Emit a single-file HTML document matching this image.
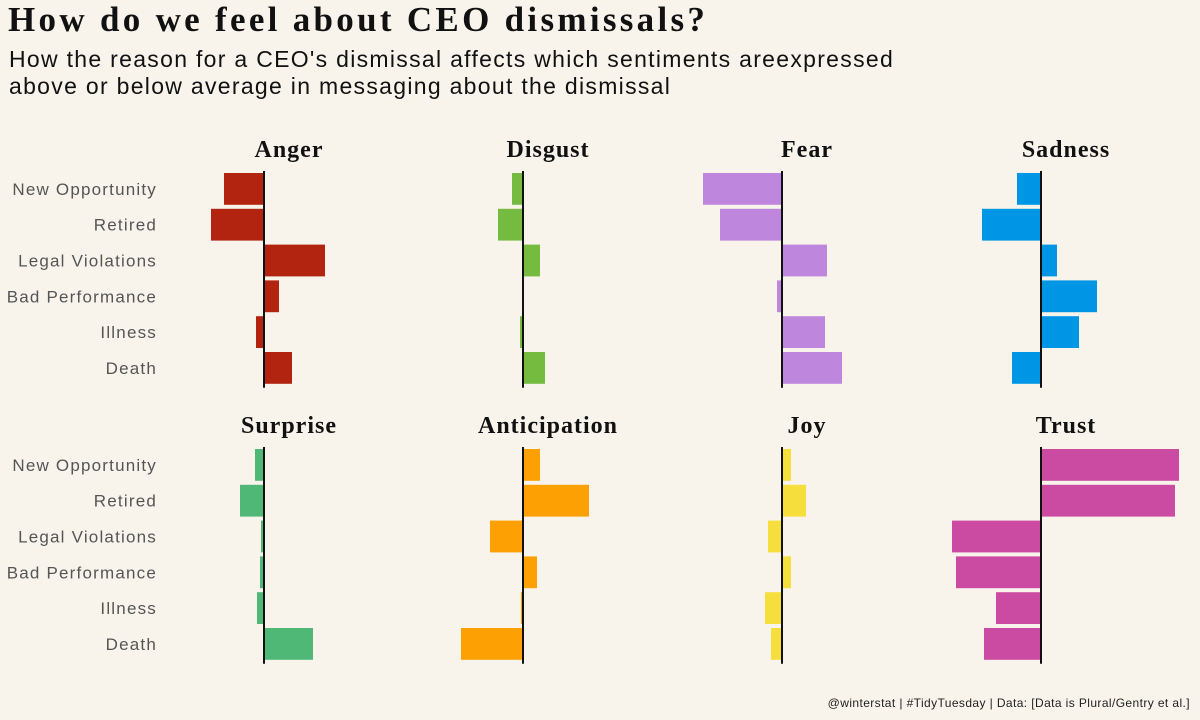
<!DOCTYPE html>
<html><head><meta charset="utf-8">
<style>
html,body{margin:0;padding:0;background:#f8f4ec;}
#wrap{position:relative;width:1200px;height:720px;overflow:hidden;background:#f8f4ec;}
.t{position:absolute;white-space:nowrap;}
</style></head>
<body>
<div id="wrap">
<div class="t" style="left:8px;top:0px;font:bold 35px 'Liberation Serif',serif;color:#111;letter-spacing:3.3px;">How do we feel about CEO dismissals?</div>
<div class="t" style="left:9px;top:46px;font:23px/27px 'Liberation Sans',sans-serif;color:#111;letter-spacing:1.3px;">How the reason for a CEO's dismissal affects which sentiments areexpressed<br>above or below average in messaging about the dismissal</div>
<svg id="svg" width="1200" height="720" style="position:absolute;left:0;top:0"></svg>
<div class="t" style="right:10px;top:696px;font:12px 'Liberation Sans',sans-serif;color:#222;letter-spacing:0.4px;">@winterstat | #TidyTuesday | Data: [Data is Plural/Gentry et al.]</div>
</div>
<script>
const categories=["New Opportunity","Retired","Legal Violations","Bad Performance","Illness","Death"];
const emotions=["Anger","Disgust","Fear","Sadness","Surprise","Anticipation","Joy","Trust"];
const colors=["#b22310","#74bb40","#bf86dd","#0096e6","#50b877","#fda003","#f6de3c","#cb4aa2"];
const anger=[-40,-53,61,15,-8,28];
const disgust=[-11,-25,17,0,-3,22];
const fear=[-79,-62,45,-5,43,60];
const sadness=[-24,-59,16,56,38,-29];
const surprise=[-9,-24,-3,-4,-7,49];
const anticipation=[17,66,-33,14,-2,-62];
const joy=[9,24,-14,9,-17,-11];
const trust=[138,134,-89,-85,-45,-57];
const series=[anger,disgust,fear,sadness,surprise,anticipation,joy,trust];

const svg=document.getElementById('svg');
const NS='http://www.w3.org/2000/svg';
function mk(t,a){const e=document.createElementNS(NS,t);for(const k in a)e.setAttribute(k,a[k]);svg.appendChild(e);return e;}
const axisX=[264,523,782,1041];
const rowTop=[171,447];
const band=35.8;
function xScale(panel,v){return axisX[panel%4]+v*1.0;}
function yScale(row,i){return rowTop[row]+i*band;}

for(let r=0;r<2;r++){
  categories.forEach((c,i)=>{
    const t=mk('text',{x:157,y:yScale(r,i)+band/2+6,'text-anchor':'end','font-family':'Liberation Sans,sans-serif','font-size':'17',fill:'#555','letter-spacing':'1.2'});
    t.textContent=c;
    
    
  });
}
series.forEach((vals,p)=>{
  const r=Math.floor(p/4), ax=axisX[p%4];
  const title=mk('text',{x:ax+25,y:rowTop[r]-14,'text-anchor':'middle','font-family':'Liberation Serif,serif','font-weight':'bold','font-size':'24',fill:'#111','letter-spacing':'1'});
  title.textContent=emotions[p];
  
  
  vals.forEach((v,i)=>{
    const x0=xScale(p,0),x1=xScale(p,v);
    const b=mk('rect',{x:Math.min(x0,x1),y:yScale(r,i)+2,width:Math.max(Math.abs(x1-x0),0.8),height:band-4,fill:colors[p]});
    
    
  });
  const ln=mk('line',{x1:ax,x2:ax,y1:rowTop[r],y2:rowTop[r]+band*6+2,stroke:'#111','stroke-width':2});
  
  
});
</script>
</body></html>
